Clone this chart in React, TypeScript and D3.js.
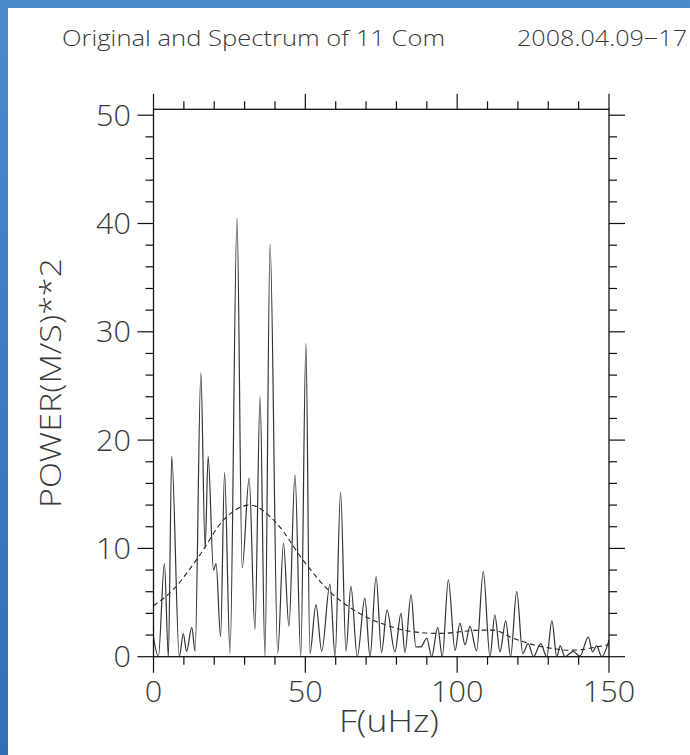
import React from "react";
import * as d3 from "d3";

const specFreq = [0, 1.6, 3.6, 4.9, 6.0, 8.5, 9.8, 10.9, 12.6, 13.7, 15.6, 17.0, 18.0, 19.75, 20.6, 22.1, 23.4, 25.2, 27.5, 29.2, 31.5, 33.4, 35.1, 36.7, 38.4, 40.9, 42.8, 44.6, 46.6, 48.5, 50.2, 51.5, 53.5, 55.4, 58.1, 59.8, 61.6, 63.4, 65.0, 67.1, 69.6, 71.3, 73.3, 75.1, 76.9, 79.5, 81.5, 82.8, 84.8, 86.4, 88.0, 90.0, 91.6, 93.6, 95.1, 97.1, 99.3, 100.9, 102.6, 104.2, 106.4, 108.6, 110.8, 112.4, 114.1, 116.0, 117.6, 119.6, 121.6, 123.4, 125.1, 127.5, 129.5, 131.2, 132.8, 133.9, 135.5, 138.2, 140.4, 143.2, 144.6, 145.9, 147.6, 150];
const specPower = [1.8, 0, 8.6, 0, 18.5, 0, 2.1, 0.5, 2.7, 0.5, 26.2, 10.0, 18.5, 8.0, 8.6, 1.85, 17.0, 0.3, 40.5, 8.2, 16.5, 2.5, 24.0, 0, 38.1, 0.3, 10.5, 2.8, 16.8, 0, 28.9, 0.3, 4.8, 0.5, 6.7, 0, 15.2, 0.5, 6.5, 0, 5.4, 0, 7.4, 0.4, 4.3, 0.45, 4.0, 0.4, 5.7, 0.9, 0.9, 1.7, 0, 2.7, 0, 7.1, 0.55, 3.1, 1.1, 2.8, 0.55, 7.85, 0, 3.85, 0.45, 3.3, 0, 6.0, 0.3, 1.2, 0, 1.2, 0, 3.3, 0, 1.0, 0, 0.5, 0.05, 1.8, 0.45, 1.0, 0, 1.55];

const fitFreq = [0, 6.5, 14.8, 23, 31.8, 40.6, 49.3, 58.1, 66.9, 76.8, 85.5, 94.3, 107.5, 111.9, 118.5, 125.1, 131.6, 136, 141, 145, 150];
const fitPower = [4.7, 6.2, 9.2, 12.6, 14.0, 12.3, 8.9, 6.0, 4.15, 2.9, 2.3, 2.15, 2.45, 2.45, 1.7, 1.1, 0.75, 0.6, 0.65, 0.85, 1.1];

const xMajor = [0, 50, 100, 150];
const xMinor = d3.range(0, 151, 10);
const yMajor = [0, 10, 20, 30, 40, 50];
const yMinor = d3.range(0, 51, 2);

const titleText = "Original and Spectrum of 11 Com";
const dateText = "2008.04.09\u221217";
const xLabel = "F(uHz)";
const yLabel = "POWER(M/S)**2";

const W = 690, H = 755;
const L = 153.5, R = 609, T = 109.3, B = 656.7;

export default function App() {
  const x = d3.scaleLinear().domain([0, 150]).range([L, R]);
  const y = d3.scaleLinear().domain([0, 50]).range([B, B - 50 * 10.83]);

  const spec = specFreq.map((f, i) => [f, specPower[i]] as [number, number]);
  const fit = fitFreq.map((f, i) => [f, fitPower[i]] as [number, number]);
  const lineGen = d3.line<[number, number]>().x(d => x(d[0])).y(d => y(d[1])).curve(d3.curveMonotoneX);

  const font = "'Open Sans', 'DejaVu Sans', sans-serif";
  const tc = "#3a3a3a";
  const ax = "#111";

  return (
    <div style={{ position: "fixed", left: 0, top: 0 }}>
      <svg width={W} height={H} style={{ display: "block" }}>
        <defs>
          <linearGradient id="bg" x1="0" y1="0" x2="0" y2="1">
            <stop offset="0" stopColor="#4a8bcb" />
            <stop offset="0.5" stopColor="#3b7dc2" />
            <stop offset="1" stopColor="#2f70b8" />
          </linearGradient>
          <clipPath id="clip"><rect x={L} y={T} width={R - L} height={B - T + 1} /></clipPath>
        </defs>
        <rect x={0} y={0} width={W} height={H} fill="url(#bg)" />
        <rect x={8} y={8} width={W - 8} height={H - 8} fill="#ffffff" />

        <text x={62} y={46} fontFamily={font} fontWeight={300} fontSize={22} fill={tc} textLength={383} lengthAdjust="spacingAndGlyphs">{titleText}</text>
        <text x={517} y={46} fontFamily={font} fontWeight={300} fontSize={22} fill={tc} textLength={170} lengthAdjust="spacingAndGlyphs">{dateText}</text>

        <g clipPath="url(#clip)">
          <path d={lineGen(fit) || ""} fill="none" stroke="#222" strokeWidth={1.1} strokeDasharray="5,3.5" />
          <path d={lineGen(spec) || ""} fill="none" stroke="#333" strokeWidth={1.2} />
        </g>

        <rect x={L} y={T} width={R - L} height={B - T} fill="none" stroke={ax} strokeWidth={1.3} />

        {xMinor.map(v => (
          <g key={"xm" + v} stroke={ax} strokeWidth={1.2}>
            <line x1={x(v)} x2={x(v)} y1={B} y2={B + (v % 50 === 0 ? 16 : 8)} />
            <line x1={x(v)} x2={x(v)} y1={T} y2={T - (v % 50 === 0 ? 15.5 : 8)} />
          </g>
        ))}
        {yMinor.map(v => (
          <g key={"ym" + v} stroke={ax} strokeWidth={1.2}>
            <line x1={L} x2={L - (v % 10 === 0 ? 16 : 8)} y1={y(v)} y2={y(v)} />
            <line x1={R} x2={R + (v % 10 === 0 ? 16 : 8)} y1={y(v)} y2={y(v)} />
          </g>
        ))}

        {xMajor.map(v => (
          <text key={"xt" + v} x={x(v)} y={702} textAnchor="middle" fontFamily={font} fontWeight={300} fontSize={29} fill={tc} textLength={String(v).length * 17.5} lengthAdjust="spacingAndGlyphs">{v}</text>
        ))}
        {yMajor.map(v => (
          <text key={"yt" + v} x={131} y={y(v) + 10.5} textAnchor="end" fontFamily={font} fontWeight={300} fontSize={29} fill={tc} textLength={String(v).length * 17.5} lengthAdjust="spacingAndGlyphs">{v}</text>
        ))}

        <text x={389} y={732} textAnchor="middle" fontFamily={font} fontWeight={300} fontSize={31} fill={tc} textLength={100} lengthAdjust="spacingAndGlyphs">{xLabel}</text>
        <text transform={`translate(61,${(T + B) / 2}) rotate(-90)`} textAnchor="middle" fontFamily={font} fontWeight={300} fontSize={30} fill={tc} textLength={250} lengthAdjust="spacingAndGlyphs">{yLabel}</text>
      </svg>
    </div>
  );
}
